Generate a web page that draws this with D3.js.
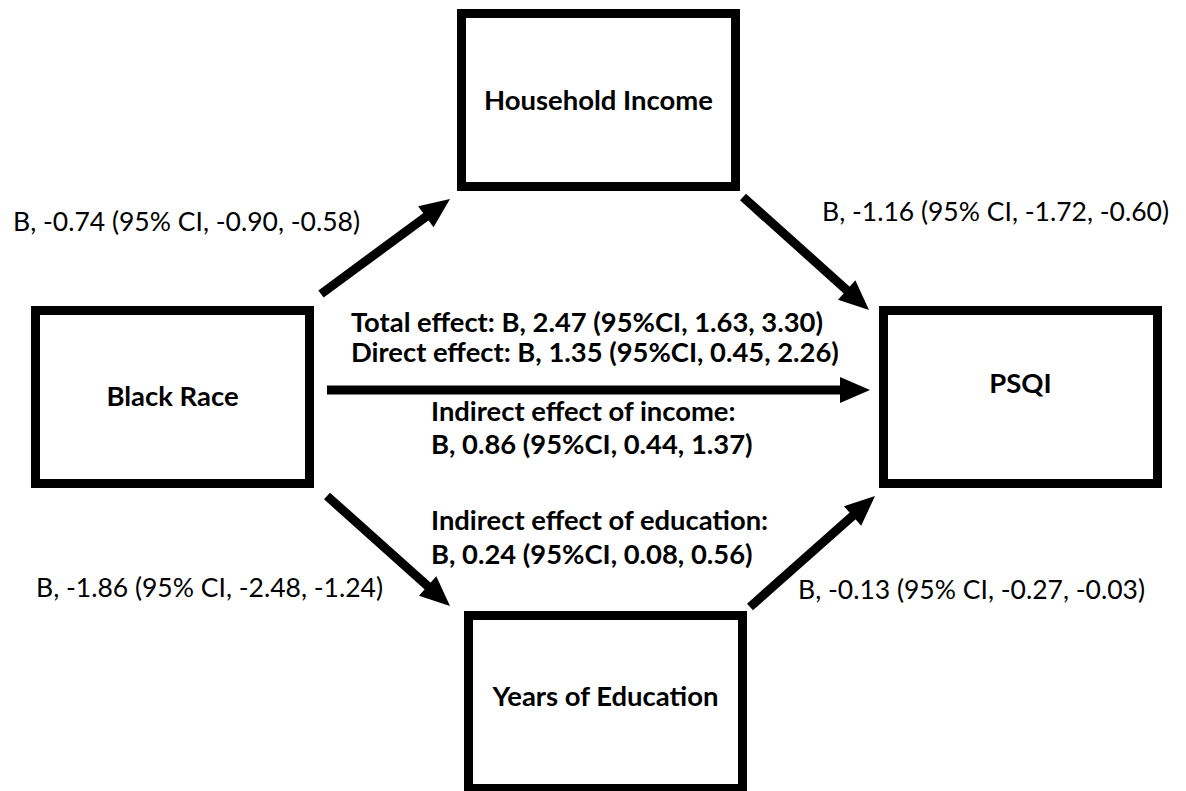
<!DOCTYPE html>
<html>
<head>
<meta charset="utf-8">
<script src="https://cdn.jsdelivr.net/npm/d3@7"></script>
<style>
  body { margin: 0; background: #fff; }
  svg { display: block; }
</style>
</head>
<body>
<div id="diagram"></div>
<script>
// node labels of the mediation model
var nodeNames = ["Household Income", "Black Race", "PSQI", "Years of Education"];

// path coefficients (a and b paths)
var pathFrom = ["Black Race", "Household Income", "Black Race", "Years of Education"];
var pathTo = ["Household Income", "PSQI", "Years of Education", "PSQI"];
var pathCoef = [
    "B, -0.74 (95% CI, -0.90, -0.58)",
    "B, -1.16 (95% CI, -1.72, -0.60)",
    "B, -1.86 (95% CI, -2.48, -1.24)",
    "B, -0.13 (95% CI, -0.27, -0.03)"
];

// effects written along the direct path
var effectLines = [
    "Total effect: B, 2.47 (95%CI, 1.63, 3.30)",
    "Direct effect: B, 1.35 (95%CI, 0.45, 2.26)",
    "Indirect effect of income:",
    "B, 0.86 (95%CI, 0.44, 1.37)",
    "Indirect effect of education:",
    "B, 0.24 (95%CI, 0.08, 0.56)"
];

var width = 1186, height = 791;
var boxW = 283, boxH = 182, stroke = 9;

// layout (outer box corners, label baseline offset)
var boxPos = {
    "Household Income":   {x: 457, y: 9,   dy: 101},
    "Black Race":         {x: 31,  y: 306, dy: 100},
    "PSQI":               {x: 879, y: 306, dy: 87},
    "Years of Education": {x: 464, y: 611, dy: 95}
};

// arrow anchors relative to box edges
var arrowPts = [
    [[321, 294], [450, 199]],
    [[743, 197], [869, 310]],
    [[327, 496], [450, 606]],
    [[750, 607], [875, 496]]
];
var directPts = [[327, 390], [870, 390]];

var coefPos = [
    {x: 13, y: 231},
    {x: 822, y: 221},
    {x: 36, y: 597},
    {x: 798, y: 599}
];
var effectPos = [
    {x: 351, y: 332},
    {x: 351, y: 362},
    {x: 431, y: 421},
    {x: 431, y: 454},
    {x: 431, y: 530},
    {x: 431, y: 564}
];

var svg = d3.select("#diagram")
    .append("svg")
      .attr("width", width)
      .attr("height", height);

svg.append("rect")
    .attr("width", width)
    .attr("height", height)
    .attr("fill", "#fff");

var fontFamily = "Lato, 'Open Sans', sans-serif";

// work out a font size so a sample string spans a given width
function fitSize(sample, weight, target) {
    var t = svg.append("text")
        .style("font-family", fontFamily)
        .style("font-weight", weight)
        .style("font-size", "100px")
        .text(sample);
    var w = t.node().getComputedTextLength();
    t.remove();
    return 100 * target / w;
}

var regSize = fitSize(pathCoef[1], 400, 347);
var boldSize = fitSize(effectLines[0], 700, 472);
var nodeSize = fitSize("Household Income", 700, 229);

// boxes
var nodes = svg.selectAll("g.node")
    .data(nodeNames)
    .enter()
    .append("g")
      .attr("class", "node");

nodes.append("rect")
    .attr("x", function(d) { return boxPos[d].x + stroke / 2; })
    .attr("y", function(d) { return boxPos[d].y + stroke / 2; })
    .attr("width", boxW - stroke)
    .attr("height", boxH - stroke)
    .attr("fill", "none")
    .attr("stroke", "#000")
    .attr("stroke-width", stroke);

nodes.append("text")
    .attr("x", function(d) { return boxPos[d].x + boxW / 2; })
    .attr("y", function(d) { return boxPos[d].y + boxPos[d].dy; })
    .attr("text-anchor", "middle")
    .style("font-family", fontFamily)
    .style("font-weight", 700)
    .style("font-size", nodeSize + "px")
    .style("fill", "#000")
    .text(function(d) { return d; });

// arrows: thick shaft + triangular head
var headLen = 30, headHalf = 13;
function drawArrow(p0, p1) {
    var dx = p1[0] - p0[0], dy = p1[1] - p0[1];
    var len = Math.sqrt(dx * dx + dy * dy);
    var ux = dx / len, uy = dy / len;
    var bx = p1[0] - ux * headLen, by = p1[1] - uy * headLen;
    svg.append("path")
        .attr("d", d3.line()([p0, [bx + ux * 2, by + uy * 2]]))
        .attr("stroke", "#000")
        .attr("stroke-width", stroke)
        .attr("fill", "none");
    svg.append("path")
        .attr("d", d3.line()([
            p1,
            [bx - uy * headHalf, by + ux * headHalf],
            [bx + uy * headHalf, by - ux * headHalf]
        ]) + "Z")
        .attr("fill", "#000");
}

pathFrom.forEach(function(f, i) { drawArrow(arrowPts[i][0], arrowPts[i][1]); });
drawArrow(directPts[0], directPts[1]);

// coefficient labels
svg.selectAll("text.coef")
    .data(pathCoef)
    .enter()
    .append("text")
      .attr("class", "coef")
      .attr("x", function(d, i) { return coefPos[i].x; })
      .attr("y", function(d, i) { return coefPos[i].y; })
      .style("font-family", fontFamily)
      .style("font-weight", 400)
      .style("font-size", regSize + "px")
      .style("fill", "#000")
      .text(function(d) { return d; });

// effect text block
svg.selectAll("text.effect")
    .data(effectLines)
    .enter()
    .append("text")
      .attr("class", "effect")
      .attr("x", function(d, i) { return effectPos[i].x; })
      .attr("y", function(d, i) { return effectPos[i].y; })
      .style("font-family", fontFamily)
      .style("font-weight", 700)
      .style("font-size", boldSize + "px")
      .style("fill", "#000")
      .text(function(d) { return d; });
</script>
</body>
</html>
